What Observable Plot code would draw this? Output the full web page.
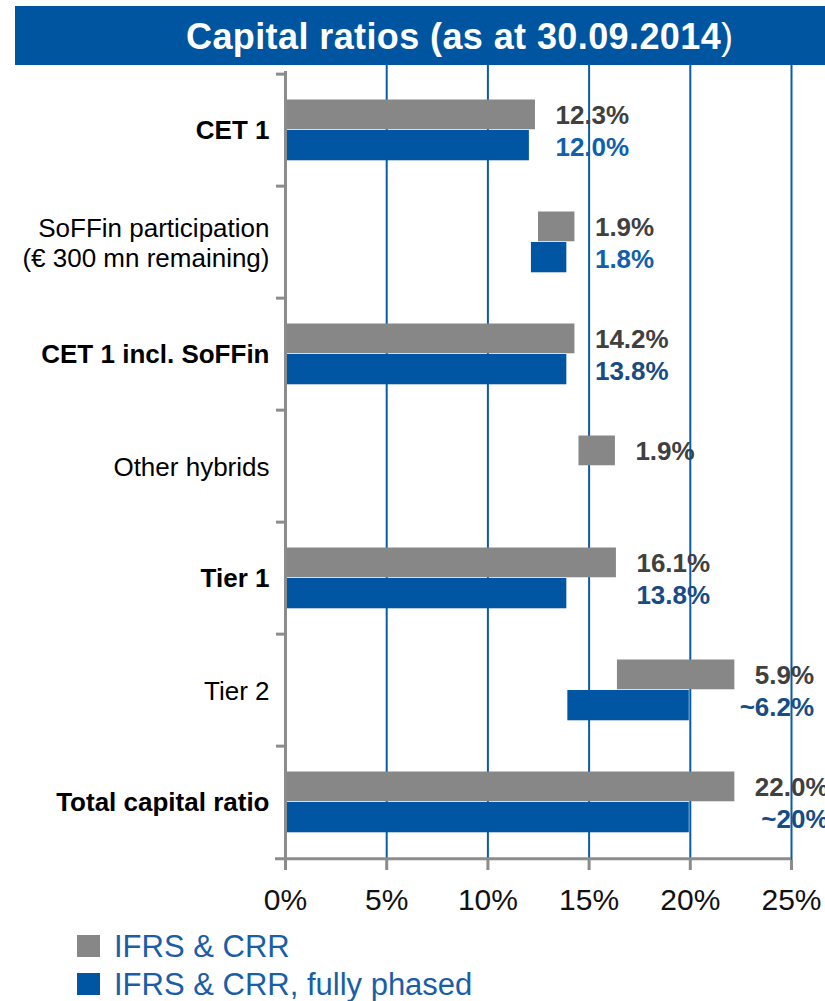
<!DOCTYPE html>
<html>
<head>
<meta charset="utf-8">
<script src="https://cdn.jsdelivr.net/npm/d3@7"></script>
<script src="https://cdn.jsdelivr.net/npm/@observablehq/plot@0.6"></script>
<style>
html, body { margin: 0; padding: 0; background: #fff; }
#wrap { position: relative; width: 825px; height: 1001px; overflow: hidden; font-family: "Liberation Sans", Arial, sans-serif; }
#title { position: absolute; left: 15px; top: 6px; width: 810px; height: 59px; background: #0055a0; color: #fff; }
#title .t { position: absolute; left: 171px; top: 13px; font-size: 36px; line-height: 36px; font-weight: bold; letter-spacing: 0.4px; white-space: nowrap; }
#title .t span { font-weight: normal; }
#chart { position: absolute; left: 0; top: 65px; }
.lg-sw { position: absolute; left: 77px; width: 23px; height: 22px; }
.lg-tx { position: absolute; left: 114px; font-size: 31px; line-height: 31px; color: #1a5ea8; white-space: nowrap; }
</style>
</head>
<body>
<div id="wrap">
  <div id="title"><div class="t">Capital ratios (as at 30.09.2014<span>)</span></div></div>
  <div id="chart"></div>
  <div class="lg-sw" style="top:935px;background:#878787"></div>
  <div class="lg-tx" id="lg1" style="top:931px"></div>
  <div class="lg-sw" style="top:973px;background:#0056a3"></div>
  <div class="lg-tx" id="lg2" style="top:969px"></div>
</div>
<script>
// ---- data ----
const categories = [
  "CET 1",
  "SoFFin participation\n(€ 300 mn remaining)",
  "CET 1 incl. SoFFin",
  "Other hybrids",
  "Tier 1",
  "Tier 2",
  "Total capital ratio"
];
const boldCategories = ["CET 1", "CET 1 incl. SoFFin", "Tier 1", "Total capital ratio"];
const seriesNames = ["IFRS & CRR", "IFRS & CRR, fully phased"];
// IFRS & CRR (waterfall start / end, %)
const grayStart = [0, 12.5, 0, 14.5, 0, 16.4, 0];
const grayEnd   = [12.35, 14.3, 14.3, 16.3, 16.35, 22.2, 22.2];
// IFRS & CRR, fully phased
const blueStart = [0, 12.15, 0, null, 0, 13.95, 0];
const blueEnd   = [12.05, 13.9, 13.9, null, 13.9, 19.95, 19.95];
const grayLabels = ["12.3%", "1.9%", "14.2%", "1.9%", "16.1%", "5.9%", "22.0%"];
const blueLabels = ["12.0%", "1.8%", "13.8%", "", "13.8%", "~6.2%", "~20%"];
const xTicks = [0, 5, 10, 15, 20, 25];

// ---- styles ----
const GRAY = "#878787", BLUE = "#0056a3", GRID = "#0a5ba8", AXIS = "#8c8c8c";
const FONT = '"Liberation Sans", Arial, sans-serif';

document.getElementById("lg1").textContent = seriesNames[0];
document.getElementById("lg2").textContent = seriesNames[1];

const W = 825, H = 865, mt = 6, mb = 70, ml = 285, mr = 34;
const bw = (H - mt - mb) / categories.length;

const rows = categories.map((c, i) => ({
  cat: c, gs: grayStart[i], ge: grayEnd[i], bs: blueStart[i], be: blueEnd[i],
  gl: grayLabels[i], bl: blueLabels[i], i
}));

// right edge for the blue label = right edge of gray label
const ctx = document.createElement("canvas").getContext("2d");
ctx.font = 'bold 26px "Liberation Sans"';
const xs = Plot.scale({x: {domain: [0, 25], range: [ml, W - mr]}});
rows.forEach(r => {
  const px = xs.apply(r.ge) + 20 + ctx.measureText(r.gl).width;
  r.xr = xs.invert(px);
});

const chart = Plot.plot({
  width: W, height: H,
  marginTop: mt, marginBottom: mb, marginLeft: ml, marginRight: mr,
  style: {fontFamily: FONT, overflow: "visible", background: "transparent"},
  x: {domain: [0, 25], label: null},
  y: {domain: categories, padding: 0, label: null},
  marks: [
    Plot.ruleX(xTicks.slice(1), {stroke: GRID, strokeWidth: 2, insetTop: -mt}),
    Plot.barX(rows, {x1: "gs", x2: "ge", y: "cat", fill: GRAY, insetTop: 25.5, insetBottom: bw - 56}),
    Plot.barX(rows.filter(r => r.be != null), {x1: "bs", x2: "be", y: "cat", fill: BLUE, insetTop: 56, insetBottom: bw - 87}),
    Plot.ruleX([0], {stroke: AXIS, strokeWidth: 3}),
    Plot.axisY({tickSize: 9, text: null, label: null, dy: -bw / 2, color: AXIS, strokeWidth: 3}),
    Plot.ruleY([categories[categories.length - 1]], {dy: bw / 2, insetLeft: -10, stroke: AXIS, strokeWidth: 3}),
    Plot.axisX({ticks: xTicks, tickSize: 10, text: null, label: null, color: AXIS, strokeWidth: 3}),
    Plot.axisX({ticks: xTicks, tickSize: 0, tickPadding: 28, label: null, tickFormat: d => d + "%", fontSize: 30, color: "#111"}),
    Plot.axisY({ticks: boldCategories, tickSize: 0, tickPadding: 16, label: null, fontSize: 26, fontWeight: "bold", color: "#000"}),
    Plot.axisY({ticks: categories.filter(c => !boldCategories.includes(c)), tickSize: 0, tickPadding: 16, label: null, fontSize: 26, lineHeight: 1.14, color: "#000"}),
    Plot.text(rows, {x: "ge", y: "cat", text: "gl", textAnchor: "start", dx: 20, dy: -15, fontSize: 26, fontWeight: "bold", fill: "#404040"}),
    Plot.text(rows.filter(r => r.bl), {x: "xr", y: "cat", text: "bl", textAnchor: "end", dy: 17, fontSize: 26, fontWeight: "bold",
      fill: r => r.i < 2 ? "#1060ad" : "#184c84"})
  ]
});
document.getElementById("chart").appendChild(chart);
</script>
</body>
</html>
